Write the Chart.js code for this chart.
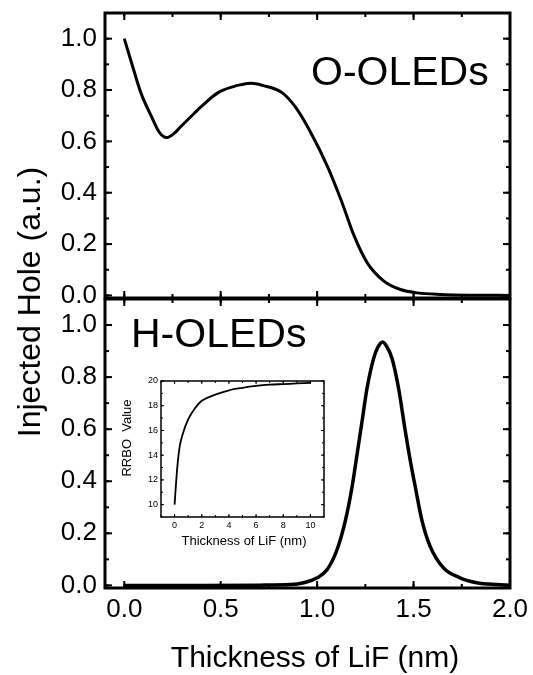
<!DOCTYPE html>
<html>
<head>
<meta charset="utf-8">
<script src="https://cdn.jsdelivr.net/npm/chart.js@4.4.1/dist/chart.umd.min.js"></script>
<style>
  html, body { margin: 0; padding: 0; background: #fff; }
  #wrap { position: relative; width: 533px; height: 675px; overflow: hidden; }
  canvas { position: absolute; }
</style>
</head>
<body>
<div id="wrap">
  <canvas id="topChart" width="533" height="675" style="left:0;top:0"></canvas>
  <canvas id="bottomChart" width="533" height="377" style="left:0;top:298px"></canvas>
  <canvas id="insetChart" width="240" height="190" style="left:100px;top:370px"></canvas>
</div>
<script>
// Top panel: O-OLEDs
const thicknessO = [0, 0.05, 0.087, 0.139, 0.182, 0.22, 0.26, 0.295, 0.35, 0.40, 0.486, 0.573, 0.6, 0.66, 0.716, 0.818, 0.887, 0.97, 1.055, 1.124, 1.193, 1.26, 1.346, 1.432, 1.52, 1.64, 1.8, 2.0];
const holeO = [1.0, 0.875, 0.787, 0.70, 0.635, 0.615, 0.632, 0.659, 0.70, 0.736, 0.79, 0.815, 0.82, 0.826, 0.818, 0.79, 0.734, 0.63, 0.50, 0.372, 0.23, 0.127, 0.056, 0.023, 0.01, 0.004, 0.001, 0.0];

// Bottom panel: H-OLEDs
const thicknessH = [0, 0.4, 0.7, 0.862, 0.93, 1.0, 1.052, 1.103, 1.147, 1.181, 1.207, 1.233, 1.259, 1.293, 1.315, 1.34, 1.365, 1.388, 1.422, 1.457, 1.483, 1.509, 1.543, 1.586, 1.655, 1.741, 1.828, 1.93, 2.0];
const holeH = [0, 0, 0.001, 0.003, 0.01, 0.029, 0.061, 0.137, 0.251, 0.378, 0.504, 0.631, 0.758, 0.872, 0.915, 0.935, 0.912, 0.872, 0.758, 0.593, 0.479, 0.378, 0.251, 0.15, 0.067, 0.029, 0.01, 0.003, 0.001];

// Inset: RRBO value vs LiF thickness
const thicknessInset = [0, 0.125, 0.25, 0.375, 0.625, 1, 1.5, 2, 3, 4, 5, 6, 7, 8, 9, 10];
const rrbo = [10, 12, 13.6, 14.7, 15.8, 16.9, 17.8, 18.4, 18.9, 19.25, 19.45, 19.6, 19.7, 19.75, 19.8, 19.85];

// Tick labels
const holeTicks = [0, 0.2, 0.4, 0.6, 0.8, 1.0];
const thicknessTicks = [0, 0.5, 1.0, 1.5, 2.0];
const insetXTicks = [0, 2, 4, 6, 8, 10];
const insetYTicks = [10, 12, 14, 16, 18, 20];

const FONT = '"Liberation Sans", Arial, sans-serif';

Chart.defaults.font.family = FONT;
Chart.defaults.color = '#000';

function points(xs, ys) {
    return xs.map((x, i) => ({ x: x, y: ys[i] }));
}

function setTicks(values) {
    return function(scale) {
        scale.ticks = values.map(v => ({ value: v }));
    };
}

// fix the axis box size and drop the label overhang padding
function fixWidth(w) {
    return function(scale) {
        scale.width = w;
        scale.paddingTop = 0;
        scale.paddingBottom = 0;
    };
}

function fixHeight(h) {
    return function(scale) {
        scale.height = h;
        scale.paddingLeft = 0;
        scale.paddingRight = 0;
    };
}

// Box round the plot area with inward tick marks on all four sides
const framePlugin = {
    id: 'frame',
    afterDraw(chart, args, opts) {
        const ctx = chart.ctx;
        const a = chart.chartArea;
        const line = (x1, y1, x2, y2) => {
            ctx.beginPath();
            ctx.moveTo(x1, y1);
            ctx.lineTo(x2, y2);
            ctx.stroke();
        };
        const mark = (scale, step, len) => {
            for (let i = Math.ceil(scale.min / step - 1e-9); i * step <= scale.max + 1e-9; i++) {
                const p = scale.getPixelForValue(i * step);
                if (scale.isHorizontal()) {
                    line(p, a.top, p, a.top + len);
                    line(p, a.bottom, p, a.bottom - len);
                } else {
                    line(a.left, p, a.left + len, p);
                    line(a.right, p, a.right - len, p);
                }
            }
        };
        ctx.save();
        ctx.strokeStyle = '#000';
        ctx.lineWidth = opts.tickWidth;
        mark(chart.scales.x, opts.xMinor, opts.minorLen);
        mark(chart.scales.x, opts.xMajor, opts.majorLen);
        mark(chart.scales.y, opts.yMinor, opts.minorLen);
        mark(chart.scales.y, opts.yMajor, opts.majorLen);
        ctx.lineWidth = opts.width;
        ctx.strokeRect(a.left, a.top, a.right - a.left, a.bottom - a.top);
        ctx.restore();
    }
};

// Free text: panel names and axis titles
const textPlugin = {
    id: 'texts',
    afterDraw(chart, args, opts) {
        const ctx = chart.ctx;
        (opts.items || []).forEach(t => {
            ctx.save();
            ctx.font = t.size + 'px ' + FONT;
            ctx.fillStyle = '#000';
            ctx.textAlign = t.align || 'center';
            ctx.textBaseline = t.baseline || 'middle';
            ctx.translate(t.x, t.y);
            if (t.rotate) ctx.rotate(t.rotate);
            ctx.fillText(t.text, 0, 0);
            ctx.restore();
        });
    }
};

function lineDataset(xs, ys, width) {
    return {
        data: points(xs, ys),
        borderColor: '#000',
        borderWidth: width,
        pointRadius: 0,
        fill: false,
        cubicInterpolationMode: 'monotone'
    };
}

// Top chart (also carries the shared y title)
new Chart(document.getElementById('topChart'), {
    type: 'line',
    data: { datasets: [lineDataset(thicknessO, holeO, 3)] },
    options: {
        responsive: false,
        animation: false,
        devicePixelRatio: 1,
        layout: { padding: { top: 13, right: 23, bottom: 377, left: 0 } },
        scales: {
            x: { type: 'linear', min: -0.1, max: 2.0, display: false },
            y: {
                min: -0.01,
                max: 1.1,
                afterBuildTicks: setTicks(holeTicks),
                afterFit: fixWidth(105),
                grid: { display: false, drawTicks: false },
                border: { display: false },
                ticks: {
                    padding: 8,
                    font: { size: 26 },
                    callback: v => v.toFixed(1)
                }
            }
        },
        plugins: {
            legend: { display: false },
            tooltip: { enabled: false },
            frame: { width: 3, tickWidth: 2, majorLen: 7, minorLen: 4, xMajor: 0.5, xMinor: 0.25, yMajor: 0.2, yMinor: 0.1 },
            texts: {
                items: [
                    { text: 'O-OLEDs', x: 311, y: 85, size: 41, align: 'left', baseline: 'alphabetic' },
                    { text: 'Injected Hole (a.u.)', x: 31, y: 302, size: 32, rotate: -Math.PI / 2 }
                ]
            }
        }
    },
    plugins: [framePlugin, textPlugin]
});

// Bottom chart
new Chart(document.getElementById('bottomChart'), {
    type: 'line',
    data: { datasets: [lineDataset(thicknessH, holeH, 3.5)] },
    options: {
        responsive: false,
        animation: false,
        devicePixelRatio: 1,
        layout: { padding: { top: 1, right: 23, bottom: 0, left: 0 } },
        scales: {
            x: {
                type: 'linear',
                min: -0.1,
                max: 2.0,
                afterBuildTicks: setTicks(thicknessTicks),
                afterFit: fixHeight(87),
                grid: { display: false, drawTicks: false },
                border: { display: false },
                ticks: {
                    padding: 6,
                    autoSkip: false,
                    maxRotation: 0,
                    font: { size: 26 },
                    callback: v => v.toFixed(1)
                }
            },
            y: {
                min: -0.01,
                max: 1.1,
                afterBuildTicks: setTicks(holeTicks),
                afterFit: fixWidth(105),
                grid: { display: false, drawTicks: false },
                border: { display: false },
                ticks: {
                    padding: 8,
                    font: { size: 26 },
                    callback: v => v.toFixed(1)
                }
            }
        },
        plugins: {
            legend: { display: false },
            tooltip: { enabled: false },
            frame: { width: 3, tickWidth: 2, majorLen: 7, minorLen: 4, xMajor: 0.5, xMinor: 0.25, yMajor: 0.2, yMinor: 0.1 },
            texts: {
                items: [
                    { text: 'H-OLEDs', x: 131, y: 49, size: 41, align: 'left', baseline: 'alphabetic' },
                    { text: 'Thickness of LiF (nm)', x: 315, y: 369, size: 30, baseline: 'alphabetic' }
                ]
            }
        }
    },
    plugins: [framePlugin, textPlugin]
});

// Inset
new Chart(document.getElementById('insetChart'), {
    type: 'line',
    data: { datasets: [lineDataset(thicknessInset, rrbo, 1.8)] },
    options: {
        responsive: false,
        animation: false,
        devicePixelRatio: 1,
        layout: { padding: { top: 11, right: 16, bottom: 0, left: 0 } },
        scales: {
            x: {
                type: 'linear',
                min: -1,
                max: 11,
                afterBuildTicks: setTicks(insetXTicks),
                afterFit: fixHeight(43),
                grid: { display: false, drawTicks: false },
                border: { display: false },
                ticks: { padding: 3, autoSkip: false, maxRotation: 0, font: { size: 9 } }
            },
            y: {
                min: 9,
                max: 20,
                afterBuildTicks: setTicks(insetYTicks),
                afterFit: fixWidth(61),
                grid: { display: false, drawTicks: false },
                border: { display: false },
                ticks: { padding: 3, font: { size: 9 } }
            }
        },
        plugins: {
            legend: { display: false },
            tooltip: { enabled: false },
            frame: { width: 1.5, tickWidth: 1, majorLen: 3, minorLen: 2, xMajor: 2, xMinor: 1, yMajor: 2, yMinor: 1 },
            texts: {
                items: [
                    { text: 'RRBO  Value', x: 27.5, y: 68, size: 13, rotate: -Math.PI / 2 },
                    { text: 'Thickness of LiF (nm)', x: 144, y: 171, size: 13 }
                ]
            }
        }
    },
    plugins: [framePlugin, textPlugin]
});
</script>
</body>
</html>
